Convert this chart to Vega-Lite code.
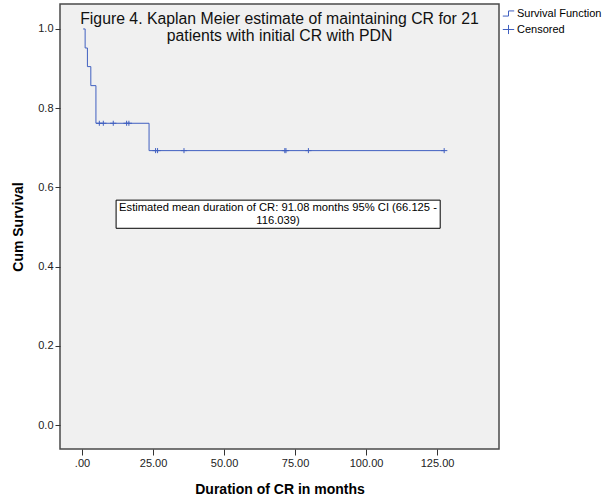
{
  "$schema": "https://vega.github.io/schema/vega-lite/v6.json",
  "width": 439,
  "height": 445,
  "autosize": "none",
  "padding": {"left": 60, "top": 4, "right": 114, "bottom": 50},
  "background": "white",
  "config": {
    "font": "Liberation Sans",
    "view": {"fill": "#f0f0f0", "stroke": "#4a4a4a", "strokeWidth": 1.5}
  },
  "title": {
    "text": ["Figure 4. Kaplan Meier estimate of maintaining CR for 21", "patients with initial CR with PDN"],
    "anchor": "middle",
    "offset": -41,
    "fontSize": 15.8,
    "fontWeight": "normal",
    "color": "#111111",
    "font": "Liberation Sans",
    "lineHeight": 17
  },
  "datasets": {
    "curve": [
      {"t": 0.4, "s": 1.0},
      {"t": 1.1, "s": 0.952},
      {"t": 1.9, "s": 0.905},
      {"t": 3.1, "s": 0.857},
      {"t": 4.9, "s": 0.762},
      {"t": 23.6, "s": 0.693},
      {"t": 127.5, "s": 0.693}
    ],
    "censored": [
      {"t": 6.1, "s": 0.762, "type": "Censored"},
      {"t": 7.5, "s": 0.762, "type": "Censored"},
      {"t": 11.0, "s": 0.762, "type": "Censored"},
      {"t": 15.7, "s": 0.762, "type": "Censored"},
      {"t": 16.5, "s": 0.762, "type": "Censored"},
      {"t": 25.9, "s": 0.693, "type": "Censored"},
      {"t": 26.6, "s": 0.693, "type": "Censored"},
      {"t": 35.9, "s": 0.693, "type": "Censored"},
      {"t": 71.4, "s": 0.693, "type": "Censored"},
      {"t": 71.8, "s": 0.693, "type": "Censored"},
      {"t": 79.7, "s": 0.693, "type": "Censored"},
      {"t": 127.5, "s": 0.693, "type": "Censored"}
    ],
    "note": [
      {"x1": 12.0, "x2": 126.1, "y1": 0.497, "y2": 0.568, "xc": 69.0, "yc": 0.548,
       "label": "Estimated mean duration of CR: 91.08 months 95% CI (66.125 -\n116.039)"}
    ]
  },
  "layer": [
    {
      "data": {"name": "curve"},
      "mark": {"type": "line", "interpolate": "step-after", "color": "#4060c0", "strokeWidth": 1},
      "encoding": {
        "x": {
          "field": "t", "type": "quantitative",
          "scale": {"domain": [-7.75, 146.8], "nice": false, "zero": false},
          "axis": {
            "values": [0, 25, 50, 75, 100, 125],
            "labelExpr": "datum.value == 0 ? '.00' : format(datum.value, '.2f')",
            "grid": false, "domain": false,
            "tickSize": 6, "tickColor": "#333333",
            "labelPadding": 2, "labelFontSize": 11, "labelColor": "#222222",
            "labelFont": "Liberation Sans",
            "title": "Duration of CR in months",
            "titleFontSize": 14, "titleFontWeight": "bold", "titleColor": "#000000",
            "titleFont": "Liberation Sans",
            "titleY": 40, "titleBaseline": "middle"
          }
        },
        "y": {
          "field": "s", "type": "quantitative",
          "scale": {"domain": [-0.06, 1.063], "nice": false, "zero": false},
          "axis": {
            "values": [0, 0.2, 0.4, 0.6, 0.8, 1.0],
            "format": ".1f",
            "grid": false, "domain": false,
            "tickSize": 5, "tickColor": "#333333",
            "labelPadding": 2, "labelFontSize": 11, "labelColor": "#222222",
            "labelFont": "Liberation Sans",
            "title": "Cum Survival",
            "titleFontSize": 14, "titleFontWeight": "bold", "titleColor": "#000000",
            "titleFont": "Liberation Sans",
            "titleX": -42, "titleBaseline": "middle"
          }
        }
      }
    },
    {
      "data": {"name": "censored"},
      "mark": {"type": "point", "filled": false, "strokeWidth": 1, "color": "#4060c0", "size": 40, "opacity": 1},
      "encoding": {
        "x": {"field": "t", "type": "quantitative"},
        "y": {"field": "s", "type": "quantitative"},
        "shape": {
          "field": "type", "type": "nominal",
          "scale": {
            "domain": ["Survival Function", "Censored"],
            "range": ["M-1,0.45H0V-0.45H1", "M-1,0H1M0,-0.8V0.8"]
          },
          "legend": {
            "title": null,
            "orient": "none",
            "legendX": 442,
            "legendY": 3,
            "padding": 0,
            "rowPadding": 3,
            "symbolSize": 130,
            "symbolStrokeColor": "#4060c0",
            "symbolFillColor": "transparent",
            "symbolStrokeWidth": 1,
            "labelFontSize": 11,
            "labelFont": "Liberation Sans",
            "labelColor": "#000000",
            "labelOffset": 2
          }
        }
      }
    },
    {
      "data": {"name": "note"},
      "mark": {"type": "rect", "fill": "white", "stroke": "#000000", "strokeWidth": 1},
      "encoding": {
        "x": {"field": "x1", "type": "quantitative"},
        "x2": {"field": "x2"},
        "y": {"field": "y1", "type": "quantitative"},
        "y2": {"field": "y2"}
      }
    },
    {
      "data": {"name": "note"},
      "mark": {"type": "text", "lineBreak": "\n", "fontSize": 11.2, "font": "Liberation Sans", "align": "center", "baseline": "middle", "lineHeight": 13, "color": "#000000"},
      "encoding": {
        "x": {"field": "xc", "type": "quantitative"},
        "y": {"field": "yc", "type": "quantitative"},
        "text": {"field": "label"}
      }
    }
  ]
}
